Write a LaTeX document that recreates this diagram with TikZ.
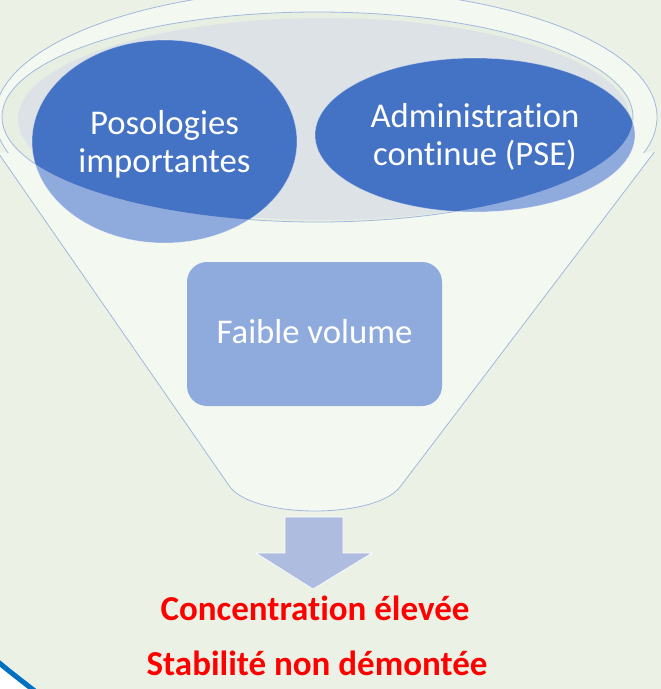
\documentclass[tikz,border=0pt]{standalone}
\usepackage{fontspec}
\setmainfont{Carlito}[Ligatures=NoCommon]
\definecolor{bg}{HTML}{EBF1E5}
\definecolor{funnelfill}{HTML}{F3F8F0}
\definecolor{lineblue}{HTML}{A3B8DE}
\definecolor{rimfill}{HTML}{E7EFE2}
\definecolor{grayfill}{HTML}{DCE2E5}
\definecolor{darkblue}{HTML}{4472C4}
\definecolor{lightblue}{HTML}{8FAADC}
\definecolor{arrowfill}{HTML}{AEBCE0}
\definecolor{cornerblue}{HTML}{0070C0}
\definecolor{alertred}{HTML}{FF0000}
\begin{document}
\begin{tikzpicture}[x=1pt,y=-1pt,
  outline/.style={draw=lineblue, line width=0.8pt},
  whitetxt/.style={text=white, align=center, inner sep=0pt, font=\fontsize{34.7}{38}\selectfont},
  redtxt/.style={text=alertred, inner sep=0pt, font=\fontsize{35}{40}\selectfont\bfseries},
  boxstyle/.style={fill=lightblue, rounded corners=20pt}]
\useasboundingbox (0,0) rectangle (661,689);
\fill[bg] (0,0) rectangle (661,689);
% funnel body
\coordinate (Lt) at (-2.2,152.3);
\coordinate (Rt) at (654.2,152.3);
\coordinate (Lb) at (230,487);
\coordinate (Rb) at (400,487);
\fill[funnelfill] (326,117) ellipse [x radius=331, y radius=128];
\fill[funnelfill] (Lt) -- (Lb) .. controls (255,519) and (375,519) .. (Rb) -- (Rt) -- cycle;
\begin{scope}
  \clip (-20,-20) rectangle (680,152.3);
  \draw[outline] (326,117) ellipse [x radius=331, y radius=128];
\end{scope}
\draw[outline] (Lt) -- (Lb) .. controls (255,519) and (375,519) .. (Rb) -- (Rt);
% rim opening
\fill[rimfill] (317.5,117) ellipse [x radius=315.5, y radius=105];
\fill[grayfill] (324,119) ellipse [x radius=306, y radius=101];
\draw[outline] (317.5,117) ellipse [x radius=315.5, y radius=105];
% circles
\fill[lightblue] (164.5,141.5) ellipse [x radius=132.5, y radius=101.5];
\fill[lightblue] (475,135) ellipse [x radius=160, y radius=77];
\begin{scope}
  \clip (317.5,117) ellipse [x radius=315.5, y radius=105];
  \fill[darkblue] (164.5,141.5) ellipse [x radius=132.5, y radius=101.5];
  \fill[darkblue] (475,135) ellipse [x radius=160, y radius=77];
\end{scope}
\draw[white, opacity=0.5, line width=0.6pt] (164.5,141.5) ellipse [x radius=132.5, y radius=101.5];
\draw[white, opacity=0.5, line width=0.6pt] (475,135) ellipse [x radius=160, y radius=77];
\node[whitetxt] (poso) at (164.5,144) {Posologies\\importantes};
\node[whitetxt] (admin) at (475,137) {Administration\\continue (PSE)};
% box
\fill[boxstyle] (187,262) rectangle (442,406);
\node[whitetxt, anchor=base] (faible) at (314.5,343) {Faible volume};
% arrow
\fill[arrowfill, draw=white, line width=0.6pt] (285,517) -- (343,517) -- (343,553) -- (372,553) -- (313,589) -- (256,553) -- (285,553) -- cycle;
% red text
\node[redtxt, anchor=base] (conc) at (315,620) {Concentration élevée};
\node[redtxt, anchor=base] (stab) at (317,675) {Stabilité non démontée};
% corner arc
\fill[white] (-5,660) -- (-3,661) .. controls (10,672) and (22,681) .. (36,692) -- (-5,692) -- cycle;
\draw[cornerblue, line width=5pt] (-3,661) .. controls (10,672) and (22,681) .. (36,692);
\end{tikzpicture}
\end{document}
